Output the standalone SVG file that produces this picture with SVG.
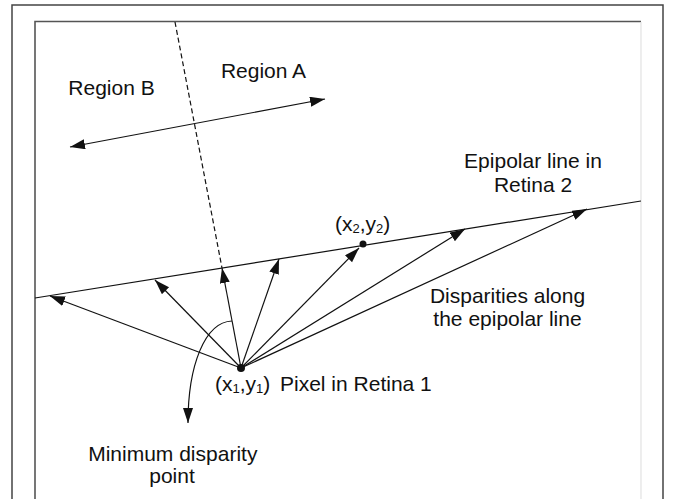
<svg xmlns="http://www.w3.org/2000/svg" width="673" height="499" viewBox="0 0 673 499">
<style>
.t{font-family:"Liberation Sans",Arial,sans-serif;font-size:21px;fill:#111}
.m{text-anchor:middle}
.ln{stroke:#111;stroke-width:1.2;fill:none}
.ar{stroke:#111;stroke-width:1.2;fill:none;marker-end:url(#ah)}
</style>
<defs>
<marker id="ah" markerUnits="userSpaceOnUse" markerWidth="16" markerHeight="11" refX="15" refY="5" orient="auto-start-reverse">
<path d="M0,0 L15,5 L0,10 z" fill="#111"/>
</marker>
</defs>
<rect width="673" height="499" fill="#fff"/>
<g id="frame">
<path d="M12,505 V5 H663 V505" fill="none" stroke="#444" stroke-width="1.5"/>
<path d="M35,505 V21.5 H641" fill="none" stroke="#555" stroke-width="1.6"/>
<path d="M641,22 V505" fill="none" stroke="#e2e2e2" stroke-width="1.2"/>
</g>
<g id="connectors">
<line class="ln" x1="175" y1="22" x2="222" y2="268" stroke-dasharray="5,3" stroke-width="1"/>
<line class="ar" x1="70" y1="147" x2="325" y2="99" marker-start="url(#ah)"/>
<line class="ln" x1="35" y1="298" x2="641" y2="201" stroke-width="1.3"/>
<line class="ar" x1="241" y1="368" x2="50" y2="296"/>
<line class="ar" x1="241" y1="368" x2="155" y2="280"/>
<line class="ar" x1="241" y1="368" x2="222" y2="268" stroke-width="2"/>
<line class="ar" x1="241" y1="368" x2="279" y2="259"/>
<line class="ar" x1="241" y1="368" x2="359" y2="248"/>
<line class="ar" x1="241" y1="368" x2="465" y2="229"/>
<line class="ar" x1="241" y1="368" x2="587" y2="209"/>
<path class="ar" d="M232,321 C205,322 188,365 188,423"/>
</g>
<g id="point1"><circle cx="241" cy="368" r="4" fill="#111"/></g>
<g id="point2"><circle cx="363" cy="244" r="3.5" fill="#111"/></g>
<g id="labels">
<text class="t m" x="111.5" y="94.5">Region B</text>
<text class="t m" x="263.5" y="78.3">Region A</text>
<text class="t m" x="533" y="168.3">Epipolar line in</text>
<text class="t m" x="533" y="191.7">Retina 2</text>
<text class="t m" x="507.5" y="302.7">Disparities along</text>
<text class="t m" x="507.5" y="325.5">the epipolar line</text>
<text class="t" x="335" y="231">(x<tspan font-size="13" dy="2">2</tspan><tspan dy="-2">,y</tspan><tspan font-size="13" dy="2">2</tspan><tspan dy="-2">)</tspan></text>
<text class="t" x="215" y="391">(x<tspan font-size="13" dy="2">1</tspan><tspan dy="-2">,y</tspan><tspan font-size="13" dy="2">1</tspan><tspan dy="-2">)</tspan></text>
<text class="t" x="280" y="391">Pixel in Retina 1</text>
<text class="t m" x="172.8" y="461">Minimum disparity</text>
<text class="t m" x="172" y="483">point</text>
</g>
</svg>
